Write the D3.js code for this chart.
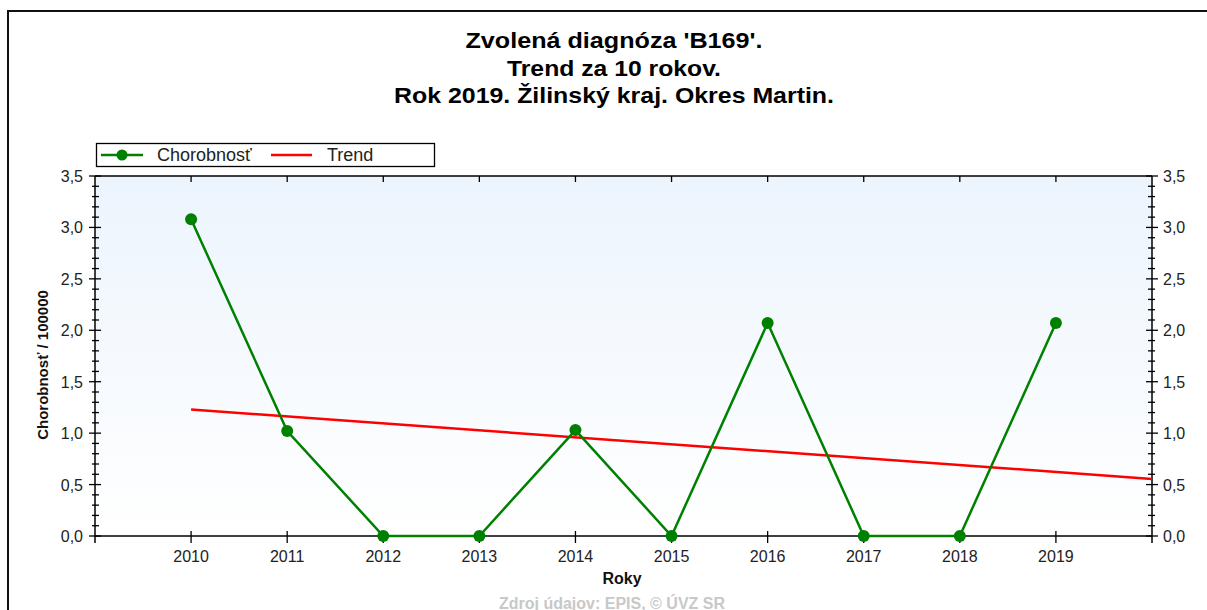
<!DOCTYPE html>
<html><head><meta charset="utf-8">
<script src="https://cdn.jsdelivr.net/npm/d3@7/dist/d3.min.js"></script>
<style>body{margin:0;background:#fff;}svg{display:block;font-family:"Liberation Sans",Arial,sans-serif;}</style>
</head><body>
<svg id="c" width="1207" height="610"></svg>
<script>
const years = [2010,2011,2012,2013,2014,2015,2016,2017,2018,2019];
const chorobnost = [3.08,1.02,0,0,1.03,0,2.07,0,0,2.07];
const trendYears = [2010,2020];
const trendValues = [1.23,0.555];
const yTicks = [0,0.5,1,1.5,2,2.5,3,3.5];
const titleLines = ["Zvolená diagnóza 'B169'.","Trend za 10 rokov.","Rok 2019. Žilinský kraj. Okres Martin."];
const titleWidths = [297,214,440];

const svg = d3.select("#c");
const L=95,R=1152,T=176,B=536;
const x = d3.scaleLinear().domain([2009,2020]).range([L,R]);
const y = d3.scaleLinear().domain([0,3.5]).range([B,T]);
const fmt = d => d3.format(".1f")(d).replace(".",",");

// frame
svg.append("path").attr("d","M8,610 L8,11 L1207,11").attr("fill","none").attr("stroke","#111").attr("stroke-width",2);

// gradient
const defs = svg.append("defs");
const g = defs.append("linearGradient").attr("id","bg").attr("x1",0).attr("y1",0).attr("x2",0).attr("y2",1);
g.append("stop").attr("offset","0%").attr("stop-color","#ecf4fd");
g.append("stop").attr("offset","100%").attr("stop-color","#ffffff");
svg.append("rect").attr("x",L).attr("y",T).attr("width",R-L).attr("height",B-T).attr("fill","url(#bg)");

// title
titleLines.forEach((t,i)=>svg.append("text").attr("x",614).attr("y",48+i*27.5).attr("text-anchor","middle")
  .attr("font-size",22).attr("font-weight","bold").attr("fill","#000")
  .attr("textLength",titleWidths[i]).attr("lengthAdjust","spacingAndGlyphs").text(t));

// axes
const ax = svg.append("g").attr("stroke","#000").attr("stroke-width",1.5);
ax.append("line").attr("x1",L).attr("x2",R).attr("y1",T).attr("y2",T);
ax.append("line").attr("x1",L).attr("x2",R).attr("y1",B).attr("y2",B);
ax.append("line").attr("x1",L).attr("x2",L).attr("y1",T).attr("y2",B+7);
ax.append("line").attr("x1",R).attr("x2",R).attr("y1",T).attr("y2",B+7);

// minor y ticks
const minor = d3.range(0,36).map(i=>i/10).filter(v=>Math.abs(v*2-Math.round(v*2))>1e-6);
const tk = svg.append("g").attr("stroke","#000").attr("stroke-width",1.3);
minor.forEach(v=>{
  tk.append("line").attr("x1",L-3).attr("x2",L+4).attr("y1",y(v)).attr("y2",y(v));
  tk.append("line").attr("x1",R-4).attr("x2",R+3).attr("y1",y(v)).attr("y2",y(v));
});
yTicks.forEach(v=>{
  tk.append("line").attr("x1",L-6).attr("x2",L+6).attr("y1",y(v)).attr("y2",y(v));
  tk.append("line").attr("x1",R-6).attr("x2",R+6).attr("y1",y(v)).attr("y2",y(v));
});
years.forEach(v=>{
  tk.append("line").attr("x1",x(v)).attr("x2",x(v)).attr("y1",B-5).attr("y2",B+7);
  tk.append("line").attr("x1",x(v)).attr("x2",x(v)).attr("y1",T).attr("y2",T+6);
});

// tick labels
const lab = svg.append("g").attr("font-size",16).attr("fill","#222");
yTicks.forEach(v=>{
  lab.append("text").attr("x",L-12).attr("y",y(v)+6).attr("text-anchor","end").text(fmt(v));
  lab.append("text").attr("x",R+11).attr("y",y(v)+6).attr("text-anchor","start").text(fmt(v));
});
years.forEach(v=>lab.append("text").attr("x",x(v)).attr("y",562).attr("text-anchor","middle").text(v));

svg.append("text").attr("x",622).attr("y",584).attr("text-anchor","middle").attr("font-size",16).attr("font-weight","bold").attr("fill","#111").text("Roky");
svg.append("text").attr("transform","translate(48,365) rotate(-90)").attr("text-anchor","middle").attr("font-size",15).attr("font-weight","bold").attr("fill","#111").text("Chorobnosť / 100000");
svg.append("text").attr("x",612).attr("y",609).attr("text-anchor","middle").attr("font-size",16).attr("font-weight","bold").attr("fill","#c8c8c8").text("Zdroj údajov: EPIS, © ÚVZ SR");

// trend
svg.append("line").attr("x1",x(trendYears[0])).attr("y1",y(trendValues[0])).attr("x2",x(trendYears[1])).attr("y2",y(trendValues[1]))
  .attr("stroke","#ff0000").attr("stroke-width",2.5);

// series
const line = d3.line().x((d,i)=>x(years[i])).y(d=>y(d));
svg.append("path").datum(chorobnost).attr("d",line).attr("fill","none").attr("stroke","#008000").attr("stroke-width",2.5);
svg.selectAll("circle.pt").data(chorobnost).enter().append("circle").attr("class","pt")
  .attr("cx",(d,i)=>x(years[i])).attr("cy",d=>y(d)).attr("r",6).attr("fill","#008000");

// legend
const lg = svg.append("g");
lg.append("rect").attr("x",96.5).attr("y",143.5).attr("width",338).attr("height",23).attr("fill","#fff").attr("stroke","#000").attr("stroke-width",1.3);
lg.append("line").attr("x1",101).attr("x2",143).attr("y1",155).attr("y2",155).attr("stroke","#008000").attr("stroke-width",2.5);
lg.append("circle").attr("cx",122).attr("cy",155).attr("r",5.5).attr("fill","#008000");
lg.append("text").attr("x",157).attr("y",161).attr("font-size",18).attr("fill","#222").text("Chorobnosť");
lg.append("line").attr("x1",271).attr("x2",312).attr("y1",155).attr("y2",155).attr("stroke","#ff0000").attr("stroke-width",2.5);
lg.append("text").attr("x",327).attr("y",161).attr("font-size",18).attr("fill","#222").text("Trend");
</script>
</body></html>
